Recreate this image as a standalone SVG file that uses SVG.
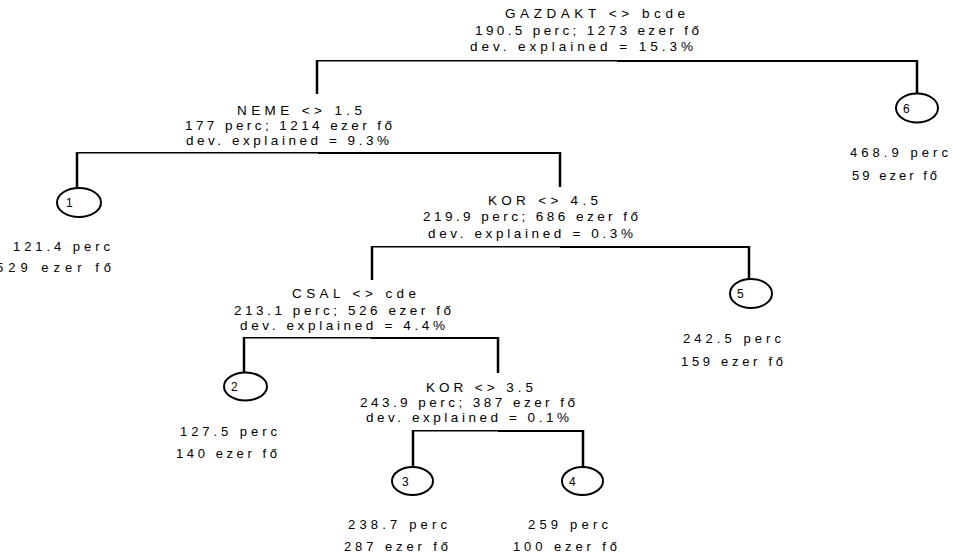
<svg xmlns="http://www.w3.org/2000/svg" width="953" height="558" viewBox="0 0 953 558">
<style>
text{font-family:"Liberation Sans",Arial,sans-serif;fill:#000}
.s{font-size:13.5px}
.l{font-size:13px}
.n{font-size:12px}
.v{stroke:#000;stroke-width:2.5;fill:none}
.hl{stroke:#000;stroke-width:1.5;fill:none}
.hr{stroke:#000;stroke-width:2;fill:none}
ellipse{fill:#fff;stroke:#000;stroke-width:2}
</style>
<rect width="953" height="558" fill="#fff"/>
<g id="connectors">
<line class="hl" x1="317" y1="60.75" x2="617" y2="60.75"/><line class="hr" x1="617" y1="61" x2="918" y2="61"/>
<line class="v" x1="317" y1="60" x2="317" y2="94"/><line class="v" x1="917" y1="60" x2="917" y2="94"/>
<line class="hl" x1="77" y1="152.75" x2="318" y2="152.75"/><line class="hr" x1="318" y1="153" x2="561" y2="153"/>
<line class="v" x1="77" y1="152" x2="77" y2="188"/><line class="v" x1="560" y1="152" x2="560" y2="187"/>
<line class="hl" x1="372" y1="246.75" x2="560" y2="246.75"/><line class="hr" x1="560" y1="247" x2="750" y2="247"/>
<line class="v" x1="372" y1="246" x2="372" y2="280"/><line class="v" x1="749" y1="246" x2="749" y2="279"/>
<line class="hl" x1="244" y1="337.75" x2="371" y2="337.75"/><line class="hr" x1="371" y1="338" x2="499" y2="338"/>
<line class="v" x1="244" y1="337" x2="244" y2="373"/><line class="v" x1="498" y1="337" x2="498" y2="373"/>
<line class="hl" x1="413" y1="430.75" x2="498" y2="430.75"/><line class="hr" x1="498" y1="431" x2="584" y2="431"/>
<line class="v" x1="413" y1="430" x2="413" y2="467"/><line class="v" x1="583" y1="430" x2="583" y2="467"/>
</g>
<g id="split-root">
<text class="s" x="505" y="18" textLength="180" lengthAdjust="spacing">GAZDAKT &lt;&gt; bcde</text>
<text class="s" x="475" y="35" textLength="224" lengthAdjust="spacing">190.5 perc; 1273 ezer fő</text>
<text class="s" x="470" y="50.5" textLength="223" lengthAdjust="spacing">dev. explained = 15.3%</text>
</g>
<g id="split-neme">
<text class="s" x="237" y="115" textLength="125" lengthAdjust="spacing">NEME &lt;&gt; 1.5</text>
<text class="s" x="185" y="129.5" textLength="207" lengthAdjust="spacing">177 perc; 1214 ezer fő</text>
<text class="s" x="186" y="145" textLength="203" lengthAdjust="spacing">dev. explained = 9.3%</text>
</g>
<g id="split-kor45">
<text class="s" x="488" y="205" textLength="110" lengthAdjust="spacing">KOR &lt;&gt; 4.5</text>
<text class="s" x="423" y="221" textLength="215" lengthAdjust="spacing">219.9 perc; 686 ezer fő</text>
<text class="s" x="428" y="238" textLength="205" lengthAdjust="spacing">dev. explained = 0.3%</text>
</g>
<g id="split-csal">
<text class="s" x="292" y="298" textLength="124" lengthAdjust="spacing">CSAL &lt;&gt; cde</text>
<text class="s" x="234" y="315" textLength="217" lengthAdjust="spacing">213.1 perc; 526 ezer fő</text>
<text class="s" x="240" y="330" textLength="205" lengthAdjust="spacing">dev. explained = 4.4%</text>
</g>
<g id="split-kor35">
<text class="s" x="426" y="392" textLength="107" lengthAdjust="spacing">KOR &lt;&gt; 3.5</text>
<text class="s" x="360" y="407" textLength="215" lengthAdjust="spacing">243.9 perc; 387 ezer fő</text>
<text class="s" x="366" y="422" textLength="203" lengthAdjust="spacing">dev. explained = 0.1%</text>
</g>
<g id="leaf-1">
<ellipse cx="79" cy="202.5" rx="22" ry="14.5"/>
<text class="n" x="66" y="207">1</text>
<text class="l" x="13" y="251" textLength="97" lengthAdjust="spacing">121.4 perc</text>
<text class="l" x="-4" y="272" textLength="115" lengthAdjust="spacing">529 ezer fő</text>
</g>
<g id="leaf-6">
<ellipse cx="917" cy="108" rx="21" ry="14.5"/>
<text class="n" x="903" y="112.5">6</text>
<text class="l" x="850" y="157" textLength="98" lengthAdjust="spacing">468.9 perc</text>
<text class="l" x="852" y="180" textLength="85" lengthAdjust="spacing">59 ezer fő</text>
</g>
<g id="leaf-5">
<ellipse cx="751" cy="293.5" rx="21" ry="14.5"/>
<text class="n" x="737" y="298">5</text>
<text class="l" x="683" y="343" textLength="98" lengthAdjust="spacing">242.5 perc</text>
<text class="l" x="681" y="366" textLength="102" lengthAdjust="spacing">159 ezer fő</text>
</g>
<g id="leaf-2">
<ellipse cx="245.5" cy="386.5" rx="21.5" ry="14"/>
<text class="n" x="231" y="391">2</text>
<text class="l" x="180" y="436" textLength="97" lengthAdjust="spacing">127.5 perc</text>
<text class="l" x="176" y="458" textLength="101" lengthAdjust="spacing">140 ezer fő</text>
</g>
<g id="leaf-3">
<ellipse cx="412.5" cy="481" rx="20.5" ry="14"/>
<text class="n" x="402" y="485.5">3</text>
<text class="l" x="348" y="529" textLength="99" lengthAdjust="spacing">238.7 perc</text>
<text class="l" x="344" y="551" textLength="104" lengthAdjust="spacing">287 ezer fő</text>
</g>
<g id="leaf-4">
<ellipse cx="582.5" cy="481" rx="20.5" ry="14"/>
<text class="n" x="569" y="485.5">4</text>
<text class="l" x="528" y="529" textLength="80" lengthAdjust="spacing">259 perc</text>
<text class="l" x="513" y="551" textLength="104" lengthAdjust="spacing">100 ezer fő</text>
</g>
</svg>
